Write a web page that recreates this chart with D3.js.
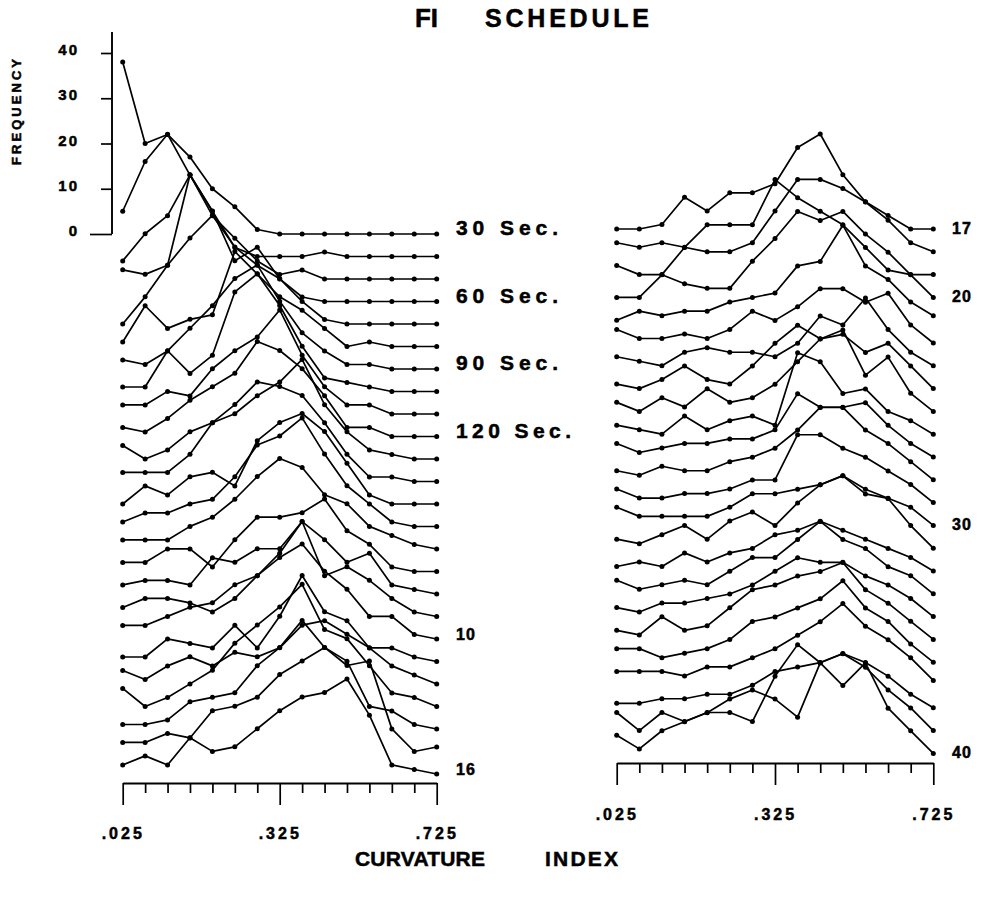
<!DOCTYPE html>
<html>
<head>
<meta charset="utf-8">
<script src="https://cdn.jsdelivr.net/npm/d3@7"></script>
<style>
  body { margin: 0; background: #fff; }
  svg text { font-family: "Liberation Sans", Arial, sans-serif; font-weight: bold; fill: #000; stroke: #000; stroke-width: 0.5px; }
</style>
</head>
<body>
<svg id="canvas" width="990" height="897"></svg>
<script>
// curvature index bins (x) and the labels printed under the axis
const bins = [".025", ".075", ".125", ".175", ".225", ".275", ".325", ".375", ".425", ".475", ".525", ".575", ".625", ".675", ".725"]
const tickIdx = [0, 7, 14]
const tickLabels = [".025", ".325", ".725"]

const freqTicks = [0, 10, 20, 30, 40]

// left panel: 30-120 sec. steps then sessions 1-16 (one row per line)
const leftRows = [
  [38, 20, 22, 17, 10, 6, 1, 0, 0, 0, 0, 0, 0, 0, 0],
  [10, 21, 27, 18, 10, 2, 0, 0, 0, 1, 0, 0, 0, 0, 0],
  [4, 10, 14, 23, 14, 9, 4, 1, 2, 0, 0, 0, 0, 0, 0],
  [7, 6, 8, 28, 20, 9, 12, 5, 1, 0, 0, 0, 0, 0, 0],
  [0, 6, 13, 19, 24, 17, 13, 10, 5, 1, 0, 0, 0, 0, 0],
  [1, 9, 4, 6, 7, 21, 16, 11, 8, 4, 0, 1, 0, 0, 0],
  [2, 1, 4, 9, 14, 20, 23, 15, 8, 4, 1, 1, 0, 0, 0],
  [1, 1, 9, 4, 8, 22, 26, 19, 10, 3, 2, 1, 0, 0, 0],
  [2, 2, 5, 4, 10, 14, 17, 23, 13, 6, 2, 2, 0, 0, 0],
  [2, 1, 4, 8, 11, 14, 21, 19, 15, 9, 2, 2, 0, 0, 0],
  [3, 0, 2, 6, 8, 10, 14, 17, 22, 12, 6, 2, 1, 0, 0],
  [2, 2, 2, 6, 13, 17, 22, 21, 19, 13, 6, 1, 1, 0, 0],
  [0, 4, 2, 6, 7, 4, 14, 18, 20, 16, 9, 2, 0, 0, 0],
  [1, 3, 3, 5, 6, 11, 18, 20, 24, 16, 9, 5, 1, 0, 0],
  [2, 2, 2, 5, 7, 11, 16, 20, 18, 12, 10, 5, 3, 1, 0],
  [2, 2, 5, 5, 1, 7, 12, 12, 13, 16, 9, 6, 1, 0, 0],
  [2, 3, 3, 2, 8, 7, 10, 10, 16, 12, 7, 9, 2, 1, 0],
  [2, 4, 4, 3, 1, 4, 9, 14, 21, 9, 11, 8, 4, 1, 0],
  [3, 3, 5, 7, 8, 12, 14, 18, 21, 15, 11, 5, 5, 1, 0],
  [1, 1, 5, 4, 3, 8, 3, 10, 19, 11, 9, 3, 3, 1, 0],
  [3, 1, 4, 6, 4, 7, 6, 8, 13, 14, 11, 8, 4, 2, 0],
  [4, 0, 2, 5, 8, 14, 18, 22, 27, 17, 15, 9, 3, 2, 0],
  [1, 1, 2, 6, 7, 8, 14, 18, 24, 18, 15, 5, 4, 1, 0],
  [2, 2, 4, 3, 9, 10, 12, 17, 20, 23, 19, 20, 5, 0, 1],
  [2, 4, 2, 8, 5, 6, 10, 14, 17, 18, 21, 13, 2, 1, 0]
]

// right panel: sessions 17-40
const rightRows = [
  [0, 0, 1, 7, 4, 8, 8, 10, 18, 21, 12, 6, 3, 0, 0],
  [2, 1, 2, 1, 0, 0, 2, 9, 16, 16, 14, 11, 7, 2, 0],
  [2, 0, 0, 6, 11, 11, 11, 21, 17, 14, 11, 6, 1, 0, 0],
  [0, 0, 5, 3, 2, 2, 8, 13, 19, 17, 19, 14, 10, 5, 0],
  [0, 2, 1, 2, 2, 4, 5, 6, 12, 13, 21, 12, 9, 4, 1],
  [3, 1, 1, 2, 1, 3, 7, 5, 8, 12, 12, 9, 11, 4, 0],
  [2, 1, 0, 3, 4, 3, 3, 2, 5, 11, 9, 15, 8, 3, 0],
  [1, 0, 2, 5, 2, 1, 5, 10, 14, 11, 12, 8, 10, 5, 0],
  [2, 0, 3, 1, 5, 2, 3, 6, 11, 16, 18, 8, 12, 4, 0],
  [2, 1, 0, 4, 1, 3, 4, 2, 18, 16, 9, 10, 5, 3, 0],
  [3, 1, 2, 3, 3, 4, 4, 6, 14, 11, 11, 12, 7, 3, 0],
  [2, 1, 3, 2, 2, 4, 5, 7, 11, 16, 16, 11, 8, 4, 0],
  [3, 1, 1, 2, 2, 3, 5, 5, 15, 15, 12, 10, 7, 4, 0],
  [4, 2, 2, 2, 2, 4, 7, 7, 8, 9, 11, 8, 6, 4, 0],
  [2, 1, 3, 5, 2, 6, 8, 5, 10, 14, 16, 12, 11, 5, 0],
  [1, 2, 1, 4, 2, 4, 5, 8, 9, 11, 9, 7, 5, 3, 0],
  [3, 1, 2, 3, 2, 5, 8, 8, 12, 16, 12, 10, 6, 4, 0],
  [2, 1, 3, 3, 4, 5, 7, 10, 13, 12, 12, 9, 7, 4, 0],
  [2, 1, 5, 2, 3, 7, 11, 12, 14, 15, 17, 11, 8, 4, 0],
  [3, 3, 1, 2, 3, 5, 9, 10, 12, 14, 18, 12, 9, 4, 0],
  [3, 3, 3, 2, 4, 4, 6, 8, 11, 14, 18, 13, 10, 6, 1],
  [1, 1, 2, 2, 3, 3, 5, 8, 9, 10, 12, 10, 7, 3, 0],
  [4, 0, 4, 2, 4, 4, 2, 12, 19, 15, 17, 14, 9, 5, 0],
  [4, 1, 5, 7, 9, 12, 14, 12, 8, 20, 15, 20, 10, 5, 0]
]

const leftLabelRows = [0, 3, 6, 9, 18, 24]
const leftLabelTexts = ["30 Sec.", "60 Sec.", "90 Sec.", "120 Sec.", "10", "16"]
const rightLabelRows = [0, 3, 13, 23]
const rightLabelTexts = ["17", "20", "30", "40"]

let canvas = d3.select("#canvas")

// frequency -> pixel height, shared by both panels and the axis
let freq = d3.scaleLinear().domain([0, 40]).range([0, 181])
let yAxisScale = d3.scaleLinear().domain([0, 40]).range([234, 53])

let xLeft = d3.scalePoint().domain(bins).range([122.7, 436.7])
let rowLeft = d3.scaleLinear().domain([0, leftRows.length - 1]).range([234, 774])

let xRight = d3.scalePoint().domain(bins).range([616.7, 933.3])
let rowRight = d3.scaleLinear().domain([0, rightRows.length - 1]).range([229, 753.4])

function drawPanel(rows, x, row) {
  let g = canvas.append("g")
  rows.forEach((vals, k) => {
    let line = d3.line()
                 .x((d, i) => x(bins[i]))
                 .y((d) => row(k) - freq(d))
    g.append("path")
     .attr("d", line(vals))
     .attr("fill", "none")
     .attr("stroke", "#000")
     .attr("stroke-width", 1.7)
     .attr("stroke-linejoin", "round")
    g.selectAll(null)
     .data(vals)
     .enter()
     .append("circle")
     .attr("cx", (d, i) => x(bins[i]))
     .attr("cy", (d) => row(k) - freq(d))
     .attr("r", 2.5)
     .attr("fill", "#000")
  })
}

drawPanel(leftRows, xLeft, rowLeft)
drawPanel(rightRows, xRight, rowRight)

function drawXAxis(x, y, labelY) {
  let axis = d3.axisBottom(x)
               .tickSize(10)
               .tickSizeOuter(0)
               .tickFormat((d, i) => tickIdx.includes(i) ? tickLabels[tickIdx.indexOf(i)] : "")
  let g = canvas.append("g")
                .attr("transform", "translate(0," + y + ")")
                .call(axis)
  g.select(".domain").attr("stroke-width", 1.9)
  g.selectAll(".tick line")
   .attr("stroke-width", 1.7)
   .attr("y2", (d, i) => tickIdx.includes(i) ? 22 : 10)
  g.selectAll(".tick text")
   .attr("y", labelY)
   .attr("dy", null)
   .style("font-size", "16px")
   .style("letter-spacing", "3px")
   .style("font-family", "'Liberation Sans', Arial, sans-serif")
   .style("font-weight", "bold")
}

drawXAxis(xLeft, 783, 56)
drawXAxis(xRight, 763, 57)

// frequency axis on the left panel
let yAxis = d3.axisLeft(yAxisScale)
              .tickValues(freqTicks)
              .tickSize(11)
              .tickSizeOuter(0)
              .tickPadding(22)
let yg = canvas.append("g")
               .attr("transform", "translate(112,0)")
               .call(yAxis)
yg.select(".domain").remove()
yg.append("line")
  .attr("x1", 0).attr("x2", 0)
  .attr("y1", 32).attr("y2", yAxisScale(0))
  .attr("stroke", "#000")
  .attr("stroke-width", 1.9)
yg.selectAll(".tick line")
  .attr("stroke-width", 1.7)
  .attr("x2", (d) => d === 0 ? -22 : -11)
yg.selectAll(".tick text")
  .attr("dy", "0.1em")
  .style("font-size", "15px")
  .style("letter-spacing", "2px")
  .style("font-family", "'Liberation Sans', Arial, sans-serif")
  .style("font-weight", "bold")

canvas.append("text")
      .attr("transform", "translate(21,112) rotate(-90)")
      .attr("text-anchor", "middle")
      .attr("textLength", 106)
      .attr("lengthAdjust", "spacing")
      .style("font-size", "13px")
      .text("FREQUENCY")

// row labels
canvas.selectAll(".lab-left")
      .data(leftLabelTexts)
      .enter()
      .append("text")
      .attr("class", "lab-left")
      .attr("x", 456)
      .attr("y", (d, i) => rowLeft(leftLabelRows[i]) + 1)
      .attr("textLength", (d) => d.length > 2 ? (d.length - 7) * 13 + 102 : 19)
      .attr("lengthAdjust", "spacing")
      .style("font-size", (d) => d.length > 2 ? "21px" : "16px")
      .text((d) => d)

canvas.selectAll(".lab-right")
      .data(rightLabelTexts)
      .enter()
      .append("text")
      .attr("class", "lab-right")
      .attr("x", 952)
      .attr("y", (d, i) => rowRight(rightLabelRows[i]) + 5)
      .attr("textLength", 19)
      .attr("lengthAdjust", "spacing")
      .style("font-size", "16px")
      .text((d) => d)

// titles
canvas.append("text")
      .attr("x", 415).attr("y", 27)
      .attr("textLength", 23).attr("lengthAdjust", "spacingAndGlyphs")
      .style("font-size", "25px")
      .text("FI")
canvas.append("text")
      .attr("x", 485).attr("y", 27)
      .attr("textLength", 164).attr("lengthAdjust", "spacing")
      .style("font-size", "25px")
      .text("SCHEDULE")

canvas.append("text")
      .attr("x", 355).attr("y", 866)
      .attr("textLength", 130).attr("lengthAdjust", "spacing")
      .style("font-size", "21px")
      .text("CURVATURE")
canvas.append("text")
      .attr("x", 545).attr("y", 866)
      .attr("textLength", 73).attr("lengthAdjust", "spacing")
      .style("font-size", "21px")
      .text("INDEX")
</script>
</body>
</html>
